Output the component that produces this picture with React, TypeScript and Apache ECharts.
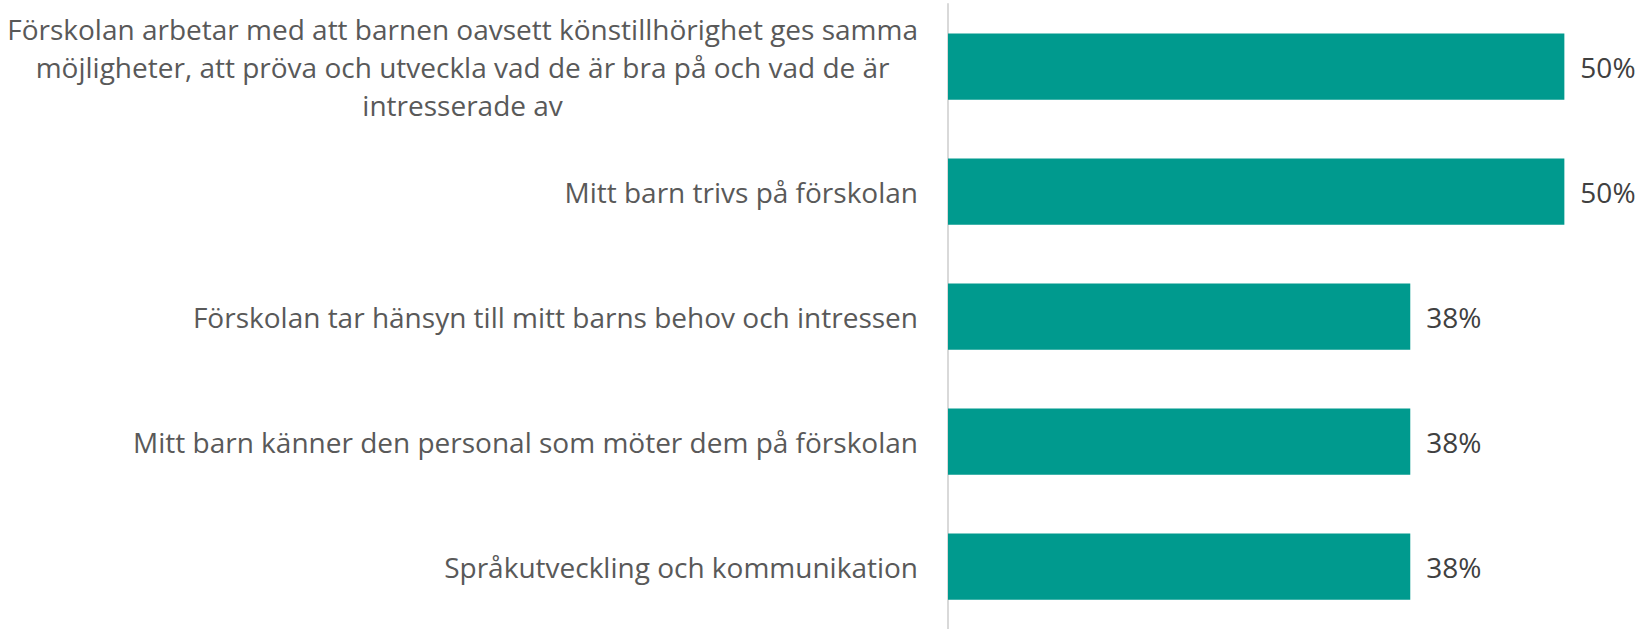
import React, { useEffect, useRef } from "react";
import * as echarts from "echarts";

const categories: string[] = [
  "Förskolan arbetar med att barnen oavsett könstillhörighet ges samma\nmöjligheter, att pröva och utveckla vad de är bra på och vad de är\nintresserade av",
  "Mitt barn trivs på förskolan",
  "Förskolan tar hänsyn till mitt barns behov och intressen",
  "Mitt barn känner den personal som möter dem på förskolan",
  "Språkutveckling och kommunikation",
];
const values: number[] = [0.5, 0.5, 0.375, 0.375, 0.375];

export default function App() {
  const ref = useRef<HTMLDivElement>(null);
  useEffect(() => {
    if (!ref.current) return;
    const chart = echarts.init(ref.current, undefined, { renderer: "svg" });
    chart.setOption({
      animation: false,
      grid: { left: 948, right: 16, top: 4, bottom: 0, containLabel: false },
      xAxis: {
        type: "value",
        min: 0,
        max: 0.55,
        show: false,
      },
      yAxis: {
        type: "category",
        inverse: true,
        data: categories,
        axisLine: { show: true, lineStyle: { color: "#d9d9d9", width: 2 } },
        axisTick: { show: false },
        axisLabel: {
          margin: 30,
          formatter: (v: string) => `{c|${v}}`,
          rich: {
            c: {
              align: "center",
              fontFamily: "Open Sans",
              fontSize: 28,
              lineHeight: 38,
              color: "#595959",
            },
          },
        },
      },
      series: [
        {
          type: "bar",
          data: values,
          barCategoryGap: "47%",
          itemStyle: { color: "#009a8e" },
          label: {
            show: true,
            position: "right",
            distance: 16,
            fontFamily: "Open Sans",
            fontSize: 28,
            color: "#404040",
            formatter: (p: any) => `${Math.round(p.value * 100)}%`,
          },
        },
      ],
    });
    return () => chart.dispose();
  }, []);
  return (
    <div
      ref={ref}
      style={{ position: "absolute", left: 0, top: 0, width: 1642, height: 629 }}
    />
  );
}
